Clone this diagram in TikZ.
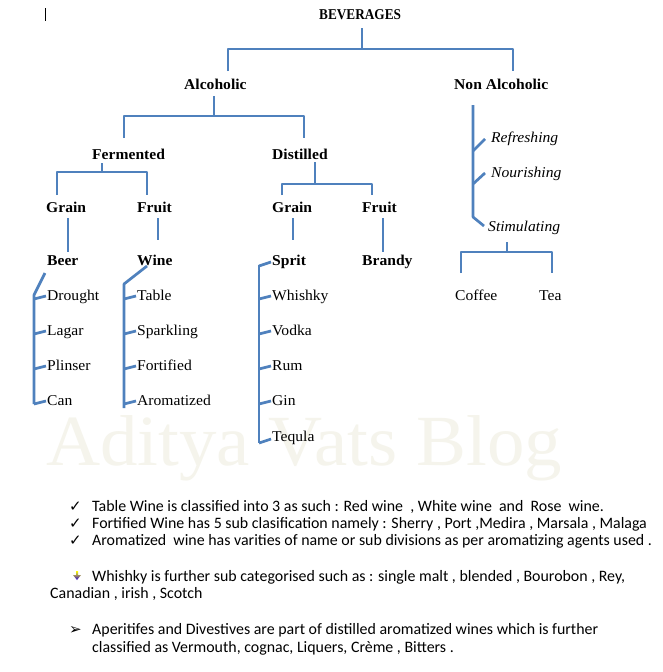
\documentclass[tikz,border=0pt]{standalone}
\usepackage{fontspec}
\setmainfont{Liberation Serif}[FakeStretch=1.04]
\newfontfamily\calib{Carlito}
\newfontfamily\dejav{DejaVu Sans}
\definecolor{lnblue}{HTML}{4F81BD}
\definecolor{wmark}{HTML}{F5F4EC}
\begin{document}
\begin{tikzpicture}[x=1pt,y=-1pt,
  conn/.style={draw=lnblue, line width=2.7pt, line join=round},
  hd/.style={anchor=base west, inner sep=0pt, font=\fontsize{15}{17}\selectfont\bfseries},
  itm/.style={anchor=base west, inner sep=0pt, font=\fontsize{15}{17}\selectfont},
  iti/.style={anchor=base west, inner sep=0pt, font=\fontsize{15}{17}\selectfont\itshape},
  note/.style={anchor=base west, inner sep=0pt, font=\calib\fontsize{15.9}{17}\selectfont},
  bul/.style={anchor=base west, inner sep=0pt, font=\dejav\fontsize{15}{17}\selectfont},
]
\useasboundingbox (0,0) rectangle (662,672);
\fill[white] (0,0) rectangle (662,672);
% watermark
\node[anchor=base west, inner sep=0pt, text=wmark, font=\fontsize{72}{76}\selectfont] (wm) at (46,465) {Aditya Vats Blog};
% cursor
\draw[line width=0.8pt] (45,8) -- (45,21);

% headings
\node[hd] (bev) at (319,19) {\scalebox{0.85}[1]{BEVERAGES}};
\node[hd] (alc) at (184,89) {Alcoholic};
\node[hd] (nal) at (454,89) {Non Alcoholic};
\node[hd] (fer) at (92,159) {Fermented};
\node[hd] (dis) at (272,159) {Distilled};
\node[hd] (fgr) at (46,212) {Grain};
\node[hd] (ffr) at (137,212) {Fruit};
\node[hd] (dgr) at (272,212) {Grain};
\node[hd] (dfr) at (362,212) {Fruit};
\node[hd] (beer) at (47,265) {Beer};
\node[hd] (wine) at (137,265) {Wine};
\node[hd] (spr) at (272,265) {Sprit};
\node[hd] (bra) at (362,265) {Brandy};
\node[iti] (ref) at (491,142) {Refreshing};
\node[iti] (nou) at (491,177) {Nourishing};
\node[iti] (sti) at (488,231) {Stimulating};
\node[itm] (cof) at (455,300) {Coffee};
\node[itm] (tea) at (539,300) {Tea};
% beer items
\node[itm] (dr) at (47,300) {Drought};
\node[itm] (la) at (47,335) {Lagar};
\node[itm] (pl) at (47,370) {Plinser};
\node[itm] (ca) at (47,405) {Can};
% wine items
\node[itm] (ta) at (137,300) {Table};
\node[itm] (sp) at (137,335) {Sparkling};
\node[itm] (fo) at (137,370) {Fortified};
\node[itm] (ar) at (137,405) {Aromatized};
% spirit items
\node[itm] (wh) at (272,300) {Whishky};
\node[itm] (vo) at (272,335) {Vodka};
\node[itm] (ru) at (272,370) {Rum};
\node[itm] (gi) at (272,405) {Gin};
\node[itm] (te) at (272,441) {Tequla};

% junction coordinates
\coordinate (bevS) at (362,28);
\coordinate (bevJ) at (362,49);
\coordinate (alcN) at (228,71);
\coordinate (nalN) at (513,71);
\coordinate (alcS) at (214,96);
\coordinate (alcJ) at (214,116);
\coordinate (ferN) at (124,138);
\coordinate (disN) at (304,138);
\coordinate (ferS) at (102,163);
\coordinate (ferJ) at (102,172);
\coordinate (fgrN) at (57,195);
\coordinate (ffrN) at (147,195);
\coordinate (disS) at (315,162);
\coordinate (disJ) at (315,184);
\coordinate (dgrN) at (282,195);
\coordinate (dfrN) at (372,195);
\coordinate (stiS) at (507,242);
\coordinate (stiJ) at (507,252);
\coordinate (cofN) at (461,273);
\coordinate (teaN) at (552,273);

\draw[conn] (bevS) -- (bevJ);
\draw[conn] (alcN) |- (bevJ) -| (nalN);
\draw[conn] (alcS) -- (alcJ);
\draw[conn] (ferN) |- (alcJ) -| (disN);
\draw[conn] (ferS) -- (ferJ);
\draw[conn] (fgrN) |- (ferJ) -| (ffrN);
\draw[conn] (disS) -- (disJ);
\draw[conn] (dgrN) |- (disJ) -| (dfrN);
\draw[conn] (stiS) -- (stiJ);
\draw[conn] (cofN) |- (stiJ) -| (teaN);

% grain/fruit to products
\coordinate (g1a) at (68,218); \coordinate (g1b) at (68,252);
\coordinate (f1a) at (158,218); \coordinate (f1b) at (158,240);
\coordinate (g2a) at (293,218); \coordinate (g2b) at (293,240);
\coordinate (f2a) at (383,218); \coordinate (f2b) at (383,252);
\draw[conn] (g1a) -- (g1b);
\draw[conn] (f1a) -- (f1b);
\draw[conn] (g2a) -- (g2b);
\draw[conn] (f2a) -- (f2b);

% non alcoholic spine
\coordinate (naT) at (473,105);
\coordinate (naB) at (473,217);
\draw[conn] (naT) -- (naB) -- ([shift={(-4,-5)}]sti.base west);
\draw[conn] (473,151) -- ([shift={(-6,-3)}]ref.base west);
\draw[conn] (473,184) -- ([shift={(-6,-4)}]nou.base west);

% beer list
\coordinate (beS) at (45,273);
\draw[conn] (beS) -- (34,295) -- (34,404);
\foreach \n in {dr,la,pl,ca}
  \draw[conn] ([shift={(-13,-1)}]\n.base west) -- ([shift={(-1,-4)}]\n.base west);
% wine list
\coordinate (wiS) at (147,266);
\draw[conn] (wiS) -- (124,284) -- (124,408);
\foreach \n in {ta,sp,fo,ar}
  \draw[conn] ([shift={(-13,-1)}]\n.base west) -- ([shift={(-1,-4)}]\n.base west);
% spirit list
\draw[conn] (259,265) -- (259,443);
\draw[conn] (259,266) -- ([shift={(-1,-3)}]spr.base west);
\foreach \n in {wh,vo,ru,gi}
  \draw[conn] ([shift={(-13,-1)}]\n.base west) -- ([shift={(-1,-4)}]\n.base west);
\draw[conn] (259,443) -- ([shift={(-1,-2)}]te.base west);

% notes
\node[bul] (c1) at (69,511) {✓};
\node[bul] (c2) at (69,528) {✓};
\node[bul] (c3) at (69,545) {✓};
\node[note] (n1) at (92,511) {Table Wine is classified into 3 as such : Red wine\ \ , White wine\ \ and\ \ Rose\ \ wine.};
\node[note] (n2) at (92,528) {Fortified Wine has 5 sub clasification namely : Sherry , Port ,Medira , Marsala , Malaga};
\node[note] (n3) at (92,545) {Aromatized\ \ wine has varities of name or sub divisions as per aromatizing agents used .};
\shade[top color=yellow, middle color=red!70!magenta, bottom color=blue!70!violet]
  (76,571) -- (78,571) -- (78,575) -- (81,575) -- (77,580) -- (73,575) -- (76,575) -- cycle;
\node[note] (n4) at (92,581) {Whishky is further sub categorised such as : single malt , blended , Bourobon , Rey,};
\node[note] (n5) at (50,598) {Canadian , irish , Scotch};
\node[bul] (ar1) at (69,634) {➢};
\node[note] (n6) at (92,634) {Aperitifes and Divestives are part of distilled aromatized wines which is further};
\node[note] (n7) at (92,652) {classified as Vermouth, cognac, Liquers, Crème , Bitters .};
\end{tikzpicture}
\end{document}
